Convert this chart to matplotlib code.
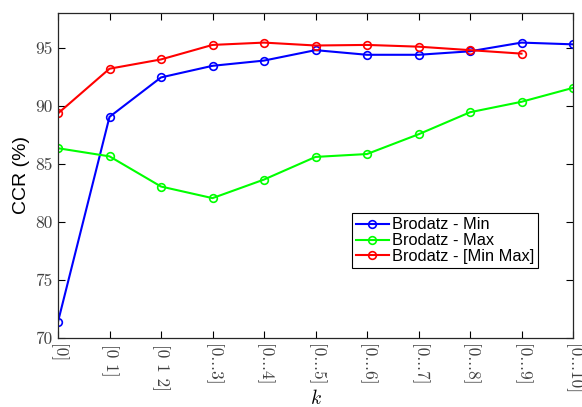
import matplotlib
matplotlib.use("Agg")
import matplotlib.pyplot as plt

plt.rcParams['mathtext.fontset'] = 'cm'

k_labels = ['[0]', '[0 1]', '[0 1 2]', '[0...3]', '[0...4]', '[0...5]',
            '[0...6]', '[0...7]', '[0...8]', '[0...9]', '[0...10]']
ccr_min = [71.4, 89.05, 92.45, 93.45, 93.9, 94.8, 94.4, 94.4, 94.7, 95.45, 95.3]
ccr_max = [86.35, 85.65, 83.05, 82.05, 83.65, 85.6, 85.85, 87.55, 89.45, 90.35, 91.55]
ccr_minmax = [89.35, 93.2, 94.0, 95.25, 95.45, 95.2, 95.25, 95.1, 94.8, 94.5]
legend_names = ['Brodatz - Min', 'Brodatz - Max', 'Brodatz - [Min Max]']

fig = plt.figure(figsize=(5.82, 4.07), dpi=100)
ax = fig.add_axes([58/582, 1-338/407, 515/582, 325/407])

x_all = list(range(len(k_labels)))
kw = dict(marker='o', markersize=5.5, markerfacecolor='none', markeredgewidth=1.2, linewidth=1.5)
ax.plot(x_all[:len(ccr_min)], ccr_min, color='#0000ff', label=legend_names[0], **kw)
ax.plot(x_all[:len(ccr_max)], ccr_max, color='#00ff00', label=legend_names[1], **kw)
ax.plot(x_all[:len(ccr_minmax)], ccr_minmax, color='#ff0000', label=legend_names[2], **kw)

ax.set_xlim(0, 10)
ax.set_ylim(70, 98)
ax.set_yticks([70, 75, 80, 85, 90, 95])
ax.set_xticks(x_all)
ax.set_xticklabels(k_labels, rotation=-90, fontfamily='cmr10', fontsize=12.5, color='0.25')
for lab in ax.get_yticklabels():
    lab.set_fontfamily('cmr10')
    lab.set_fontsize(12.5)
    lab.set_color('0.25')
ax.tick_params(direction='in', top=True, right=True, length=5, width=0.8, pad=4)
for s in ax.spines.values():
    s.set_linewidth(0.9)
    s.set_color('0.15')

ax.set_ylabel('CCR (%)', fontfamily='Liberation Sans', fontsize=14, labelpad=4)
ax.set_xlabel('$k$', fontsize=14, va='center')
ax.xaxis.set_label_coords(0.5, (338 - 399) / 325)

leg = ax.legend(loc='lower left', bbox_to_anchor=(0.571, 0.215), fancybox=False,
                framealpha=1, edgecolor='black', borderpad=0.25, labelspacing=0.05,
                handlelength=2.0, handletextpad=0.2, borderaxespad=0,
                prop={'family': 'Liberation Sans', 'size': 11.75})
leg.get_frame().set_linewidth(0.8)

fig.savefig('out.png', dpi=100)
